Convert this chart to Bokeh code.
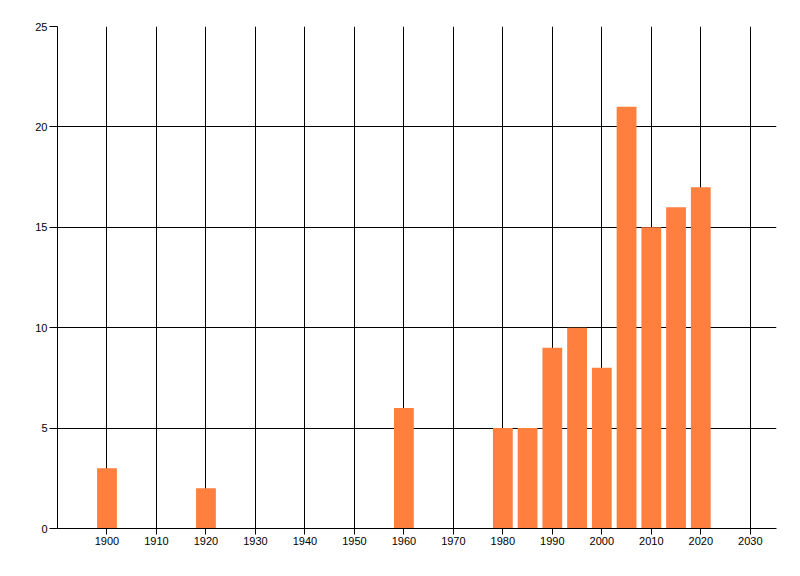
from bokeh.plotting import figure
from bokeh.models import FixedTicker, Range1d, ColumnDataSource
from bokeh.embed import file_html
from bokeh.resources import INLINE

years = [1900, 1920, 1960, 1980, 1985, 1990, 1995, 2000, 2005, 2010, 2015, 2020]
counts = [3, 2, 6, 5, 5, 9, 10, 8, 21, 15, 16, 17]
x_ticks = [1900, 1910, 1920, 1930, 1940, 1950, 1960, 1970, 1980, 1990, 2000, 2010, 2020, 2030]
y_ticks = [0, 5, 10, 15, 20, 25]

source = ColumnDataSource(dict(year=years, count=counts))

p = figure(frame_width=719, frame_height=502,
           min_border_left=57, min_border_top=26, min_border_right=16, min_border_bottom=40,
           x_range=Range1d(1890, 2035.3), y_range=Range1d(0, 25),
           output_backend="svg", toolbar_location=None, tools="")

p.vbar(x="year", top="count", width=4, source=source,
       fill_color="#FF7F3F", line_color=None)

p.outline_line_color = None
p.background_fill_color = "white"
p.border_fill_color = "white"

for ax, ticks in ((p.xaxis, x_ticks), (p.yaxis, y_ticks)):
    ax.ticker = FixedTicker(ticks=ticks)
    ax.axis_line_color = "black"
    ax.major_tick_line_color = "black"
    ax.minor_tick_line_color = None
    ax.major_tick_in = 0
    ax.major_label_text_font = "Liberation Sans"
    ax.major_label_text_font_size = "11px"
    ax.major_label_text_color = "black"
    ax.major_label_standoff = 2

p.xaxis.major_tick_out = 6
p.yaxis.major_tick_out = 8

p.xgrid.ticker = FixedTicker(ticks=x_ticks)
p.ygrid.ticker = FixedTicker(ticks=y_ticks)
for g in (p.xgrid, p.ygrid):
    g.grid_line_color = "black"
    g.grid_line_alpha = 1.0
    g.grid_line_width = 1

open("out.html", "w").write(file_html(p, INLINE))
